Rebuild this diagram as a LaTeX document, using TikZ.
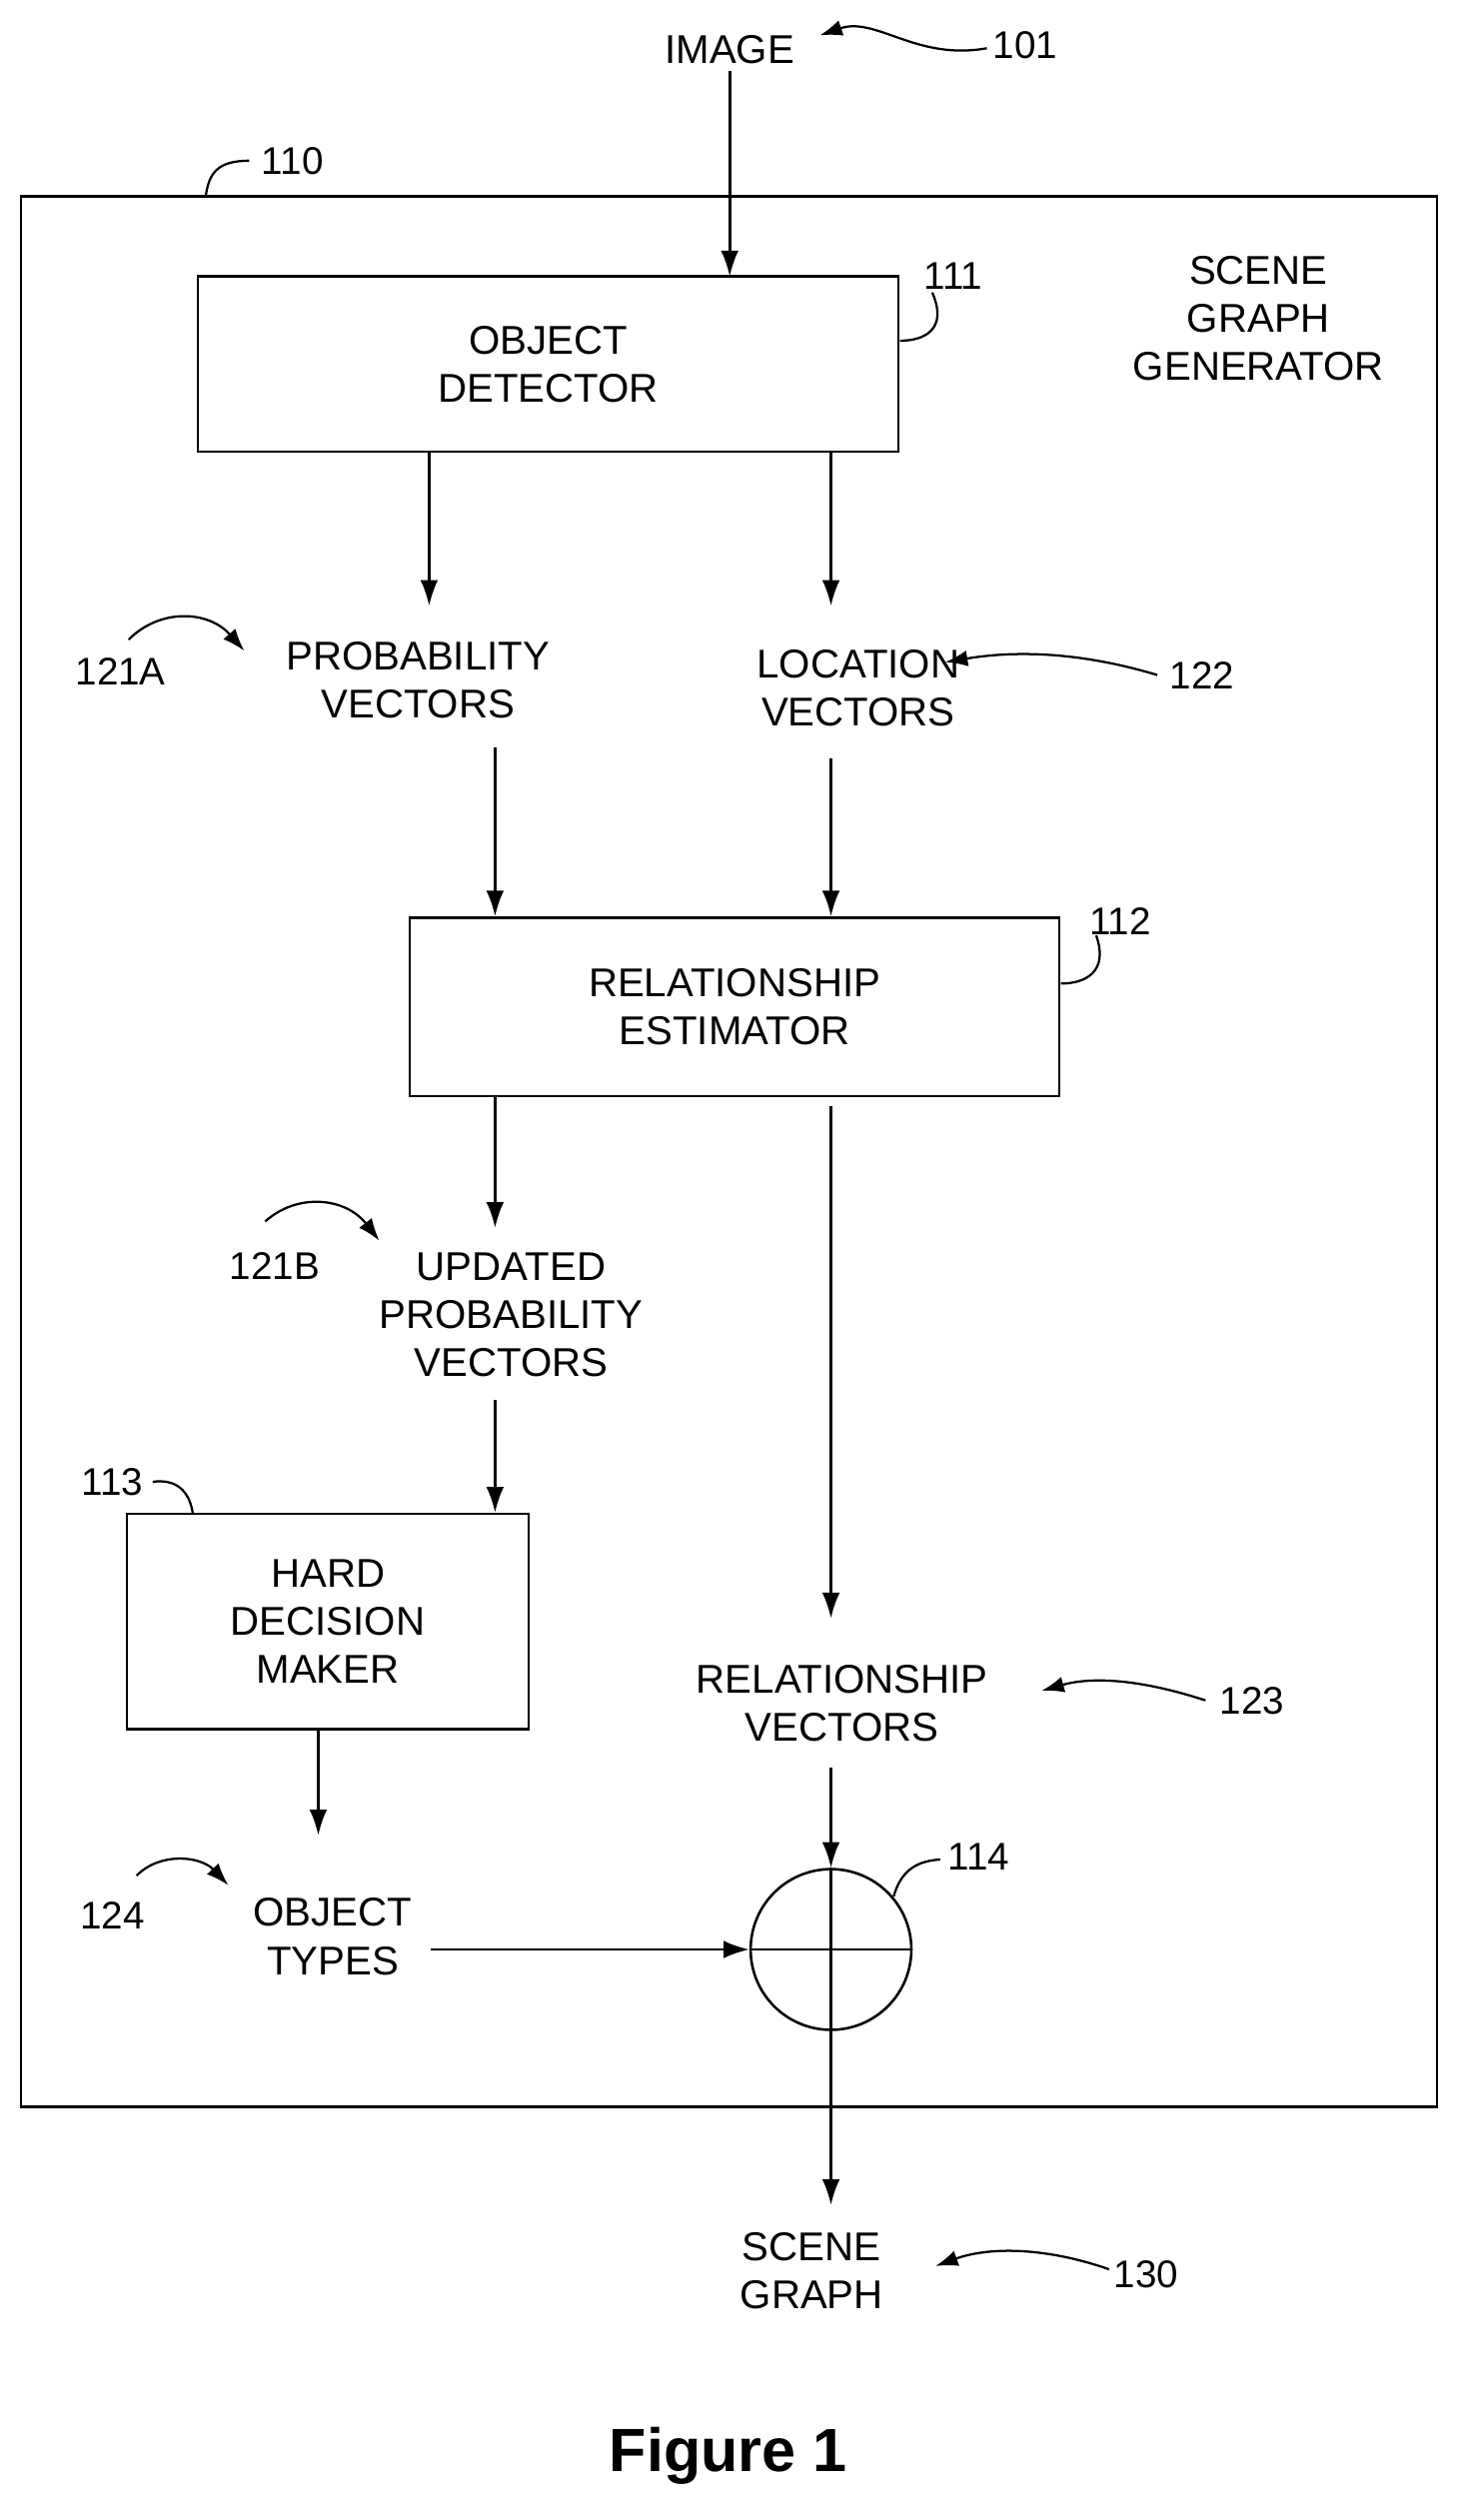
\documentclass[tikz,border=0pt]{standalone}
\usepackage{fontspec}
\setmainfont{Liberation Sans}
\usetikzlibrary{arrows.meta}
\begin{document}
\begin{tikzpicture}[x=1pt,y=-1pt,line width=1.6pt,
  lbl/.style={font=\fontsize{25}{30}\selectfont,align=center},
  num/.style={font=\fontsize{24}{28}\selectfont},
  box/.style={draw,line width=1.6pt},
  arr/.style={-{Latex[length=16pt,width=11pt]}},
  lead/.style={line width=1.4pt},
  carr/.style={line width=1.4pt,-{Latex[length=14pt,width=10pt]}}]
\useasboundingbox (0,0) rectangle (908,1568);
\draw[box] (13,122) rectangle (894,1311);
\node[lbl] (img) at (454,31) {IMAGE};
\node[num] (n101) at (638,28) {101};
\draw[carr] (614,30) .. controls (570,38) and (545,10) .. (510,22);
\node[num] (n110) at (182,100) {110};
\draw[lead] (155,100) .. controls (135,100) and (130,108) .. (128,122);
\node[box,minimum width=436pt,minimum height=109pt,lbl] (od) at (341,226.5) {OBJECT\\DETECTOR};
\node[num] (n111) at (593,172) {111};
\draw[lead] (580,182) .. controls (590,205) and (575,212) .. (560,212);
\node[lbl] (sgg) at (783,198) {SCENE\\GRAPH\\GENERATOR};
\draw[arr] (img.south -| 454,0) ++(0,0) -- (454,172);
\node[lbl] (pv) at (260,423) {PROBABILITY\\VECTORS};
\node[lbl] (lv) at (534,428) {LOCATION\\VECTORS};
\draw[arr] (267,281) -- (267,377);
\draw[arr] (517,281) -- (517,377);
\node[num] (n121a) at (75,418) {121A};
\draw[carr] (80,398) .. controls (100,378) and (130,380) .. (152,405);
\node[num] (n122) at (748,420) {122};
\draw[carr] (720,420) .. controls (670,405) and (630,405) .. (588,412);
\node[box,minimum width=404pt,minimum height=111pt,lbl] (re) at (457,626.5) {RELATIONSHIP\\ESTIMATOR};
\node[num] (n112) at (697,573) {112};
\draw[lead] (682,582) .. controls (690,605) and (675,612) .. (660,612);
\draw[arr] (308,465) -- (re.north -| 308,0);
\draw[arr] (517,472) -- (re.north -| 517,0);
\node[lbl] (upv) at (318,818) {UPDATED\\PROBABILITY\\VECTORS};
\draw[arr] (re.south -| 308,0) -- (308,764);
\node[num] (n121b) at (171,788) {121B};
\node[box,minimum width=250pt,minimum height=134pt,lbl] (hd) at (204,1009) {HARD\\DECISION\\MAKER};
\draw[carr] (165,760) .. controls (185,742) and (215,745) .. (236,772);
\draw[arr] (308,871) -- (hd.north -| 308,0);
\node[num] (n113) at (70,922) {113};
\draw[lead] (95,922) .. controls (110,920) and (118,928) .. (120,942);
\node[lbl] (ot) at (207,1205) {OBJECT\\TYPES};
\draw[arr] (hd.south -| 198,0) -- (198,1142);
\node[num] (n124) at (70,1192) {124};
\draw[carr] (85,1167) .. controls (100,1152) and (125,1155) .. (142,1173);
\node[lbl] (rv) at (524,1060) {RELATIONSHIP\\VECTORS};
\draw[arr] (517,688) -- (517,1007);
\node[num] (n123) at (779,1058) {123};
\draw[carr] (750,1058) .. controls (710,1045) and (680,1043) .. (648,1052);
\node[draw,circle,minimum size=100pt,inner sep=0pt] (sum) at (517,1213) {};
\draw (sum.north) -- (sum.south) (sum.west) -- (sum.east);
\draw[arr] (517,1100) -- (sum.north);
\draw[arr] (268,1213) -- (sum.west);
\node[num] (n114) at (609,1155) {114};
\draw[lead] (585,1157) .. controls (568,1158) and (560,1166) .. (556,1180);
\node[lbl] (sg) at (505,1413) {SCENE\\GRAPH};
\draw[arr] (sum.south) -- (517,1372);
\node[num] (n130) at (713,1415) {130};
\draw[carr] (690,1412) .. controls (650,1398) and (615,1398) .. (582,1410);
\node[font=\bfseries\fontsize{38}{44}\selectfont] (fig) at (453,1528) {Figure 1};
\end{tikzpicture}
\end{document}
